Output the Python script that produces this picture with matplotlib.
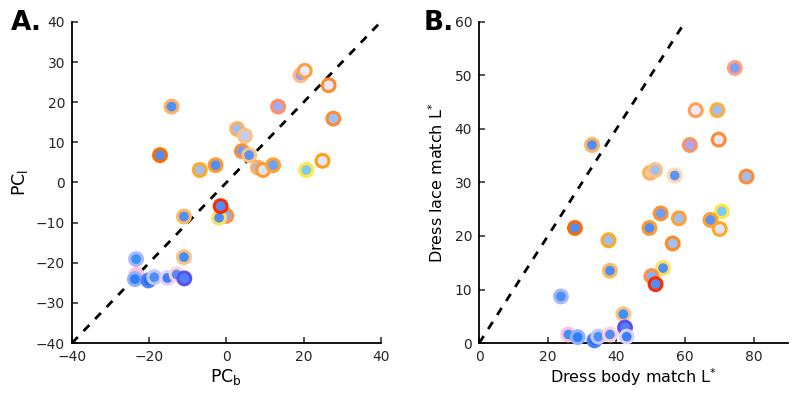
import matplotlib
matplotlib.use("Agg")
import matplotlib.pyplot as plt

# ---- Panel A data ----
a_pcb = [19.2, 20.3, 26.5, 27.7, 13.4, -14.2, 2.8, 4.8, 4.0, 5.9, -17.2, -2.8, -6.9, 8.2, 9.5,
         12.1, 24.9, 20.7, 0.0, -1.9, -1.5, -11.0, -11.0, -23.4, -23.3, -23.7, -20.2, -18.7,
         -15.3, -12.9, -10.9]
a_pcl = [26.7, 27.8, 24.2, 15.9, 18.9, 18.9, 13.3, 11.6, 7.8, 6.8, 6.8, 4.3, 3.1, 3.7, 3.1,
         4.3, 5.4, 3.1, -8.3, -8.8, -5.9, -8.5, -18.6, -19.1, -23.0, -24.1, -24.4, -23.6,
         -23.8, -22.9, -23.9]
a_face = ['#8fa3f5', '#f0eaff', '#ebe8fa', '#9fbff5', '#a8a8f5', '#4f8ff5', '#a0bff0', '#c0d0f5',
          '#6f9ff5', '#5a95f5', '#4f8ff5', '#4f8ff5', '#9fbff0', '#9fbff0', '#dde4fa',
          '#6fa0f5', '#e4e4fa', '#80c8f8', '#8fb0f0', '#4f8ff5', '#4f8ff5', '#4f8ff5',
          '#3f8ff8', '#3f8ff8', '#f0c0e0', '#2f7ff8', '#1f6ff8', '#4f8ff5', '#3f7ff5',
          '#4f8ff5', '#4f80f5']
a_edge = ['#ffb890', '#ffa040', '#ff8a30', '#ff8a30', '#ff9060', '#ffb060', '#ffb060', '#ffc080',
          '#ff9030', '#ffc080', '#ff6a00', '#ff9a30', '#ffa820', '#ffb060', '#ff9a30',
          '#ffa030', '#ffa010', '#ffe840', '#ff9040', '#ffe060', '#ff2a00', '#ffb860',
          '#ffc080', '#a8b8ff', '#ffc0d8', '#90b0ff', '#4a7ff8', '#c0c8ff', '#e0d0ff',
          '#ffd0d8', '#5a50f0']

# ---- Panel B data ----
b_body = [74.5, 63.1, 69.4, 69.8, 61.4, 32.9, 49.8, 51.3, 57.0, 77.9, 70.7, 52.9, 58.2, 67.4,
          70.1, 27.9, 49.6, 37.7, 56.4, 53.6, 38.1, 50.2, 51.4, 23.8, 42.0, 42.5, 26.0, 28.7,
          33.6, 34.7, 38.1, 43.0]
b_lace = [51.4, 43.5, 43.5, 38.0, 37.0, 37.0, 31.8, 32.3, 31.3, 31.1, 24.6, 24.2, 23.3, 23.0,
          21.3, 21.5, 21.5, 19.2, 18.6, 14.0, 13.5, 12.5, 11.0, 8.7, 5.4, 2.9, 1.6, 1.1,
          0.5, 1.2, 1.6, 1.2]
b_face = ['#7f9ff5', '#f0e8ff', '#9fc0f5', '#ece8fa', '#a8a8f5', '#4f8ff5', '#ffd0a0', '#a0c0f0',
          '#5a95f5', '#9fbff0', '#80c8f8', '#6f9ff5', '#9fbff0', '#5a95f5', '#dde4fa',
          '#4f8ff5', '#4f8ff5', '#9fbff0', '#9fbff0', '#4f8ff5', '#4f8ff5', '#8fb0f0',
          '#4f8ff5', '#4f8ff5', '#3f8ff8', '#4f80f5', '#3f8ff8', '#2f7ff8', '#1f6ff8',
          '#4f8ff5', '#4f8ff5', '#3f7ff5']
b_edge = ['#ffa080', '#ffa050', '#ffb030', '#ff8a30', '#ff9060', '#ffb060', '#ffb060', '#ffc080',
          '#ffd8b0', '#ff8a30', '#ffe840', '#ff9030', '#ffa030', '#ffa030', '#ffa820',
          '#ff6a00', '#ff9a30', '#ffa820', '#ff8a20', '#ffe060', '#ffb860', '#ff9040',
          '#ff2a00', '#a8b8ff', '#ffc080', '#5a50f0', '#ffc0d8', '#90b0ff', '#4a7ff8',
          '#c0c8ff', '#ffd0d8', '#e0d0ff']

a_ticks_x = [-40, -20, 0, 20, 40]
a_ticks_y = [-40, -30, -20, -10, 0, 10, 20, 30, 40]
b_ticks_x = [0, 20, 40, 60, 80]
b_ticks_y = [0, 10, 20, 30, 40, 50, 60]

plt.rcParams['font.family'] = ['DejaVu Sans']
fig = plt.figure(figsize=(8, 4.05), dpi=100)

axA = fig.add_axes([0.09, 0.153, 0.386, 0.793])
axB = fig.add_axes([0.599, 0.153, 0.386, 0.793])

def style(ax):
    for s in ['top', 'right']:
        ax.spines[s].set_visible(False)
    for s in ['left', 'bottom']:
        ax.spines[s].set_linewidth(1.3)
    ax.tick_params(direction='in', length=4, width=1.1, labelsize=10, colors='#262626',
                   pad=5)

ms = 85
lw = 2.2

axA.plot([-40, 40], [-40, 40], 'k--', lw=2, dashes=(3, 3), zorder=1)
axA.scatter(a_pcb, a_pcl, s=ms, c=a_face, edgecolors=a_edge, linewidths=lw, zorder=3,
            clip_on=False)
axA.set_xlim(-40, 40)
axA.set_ylim(-40, 40)
axA.set_xticks(a_ticks_x)
axA.set_yticks(a_ticks_y)
axA.set_xlabel(r'PC$_\mathregular{b}$', fontsize=12.5, labelpad=2)
axA.set_ylabel(r'PC$_\mathregular{l}$', fontsize=12.5, labelpad=4)
style(axA)

axB.plot([0, 60], [0, 60], 'k--', lw=2, dashes=(3, 3), zorder=1)
axB.scatter(b_body, b_lace, s=ms, c=b_face, edgecolors=b_edge, linewidths=lw, zorder=3,
            clip_on=False)
axB.set_xlim(0, 90)
axB.set_ylim(0, 60)
axB.set_xticks(b_ticks_x)
axB.set_yticks(b_ticks_y)
axB.set_xlabel(r'Dress body match L$^{*}$', fontsize=11.5, labelpad=2)
axB.set_ylabel(r'Dress lace match L$^{*}$', fontsize=11.5, labelpad=6)
style(axB)

fig.text(0.014, 0.942, 'A.', fontsize=19, fontweight='bold', va='center', ha='left')
fig.text(0.529, 0.942, 'B.', fontsize=19, fontweight='bold', va='center', ha='left')

fig.savefig('out.png', dpi=100)
